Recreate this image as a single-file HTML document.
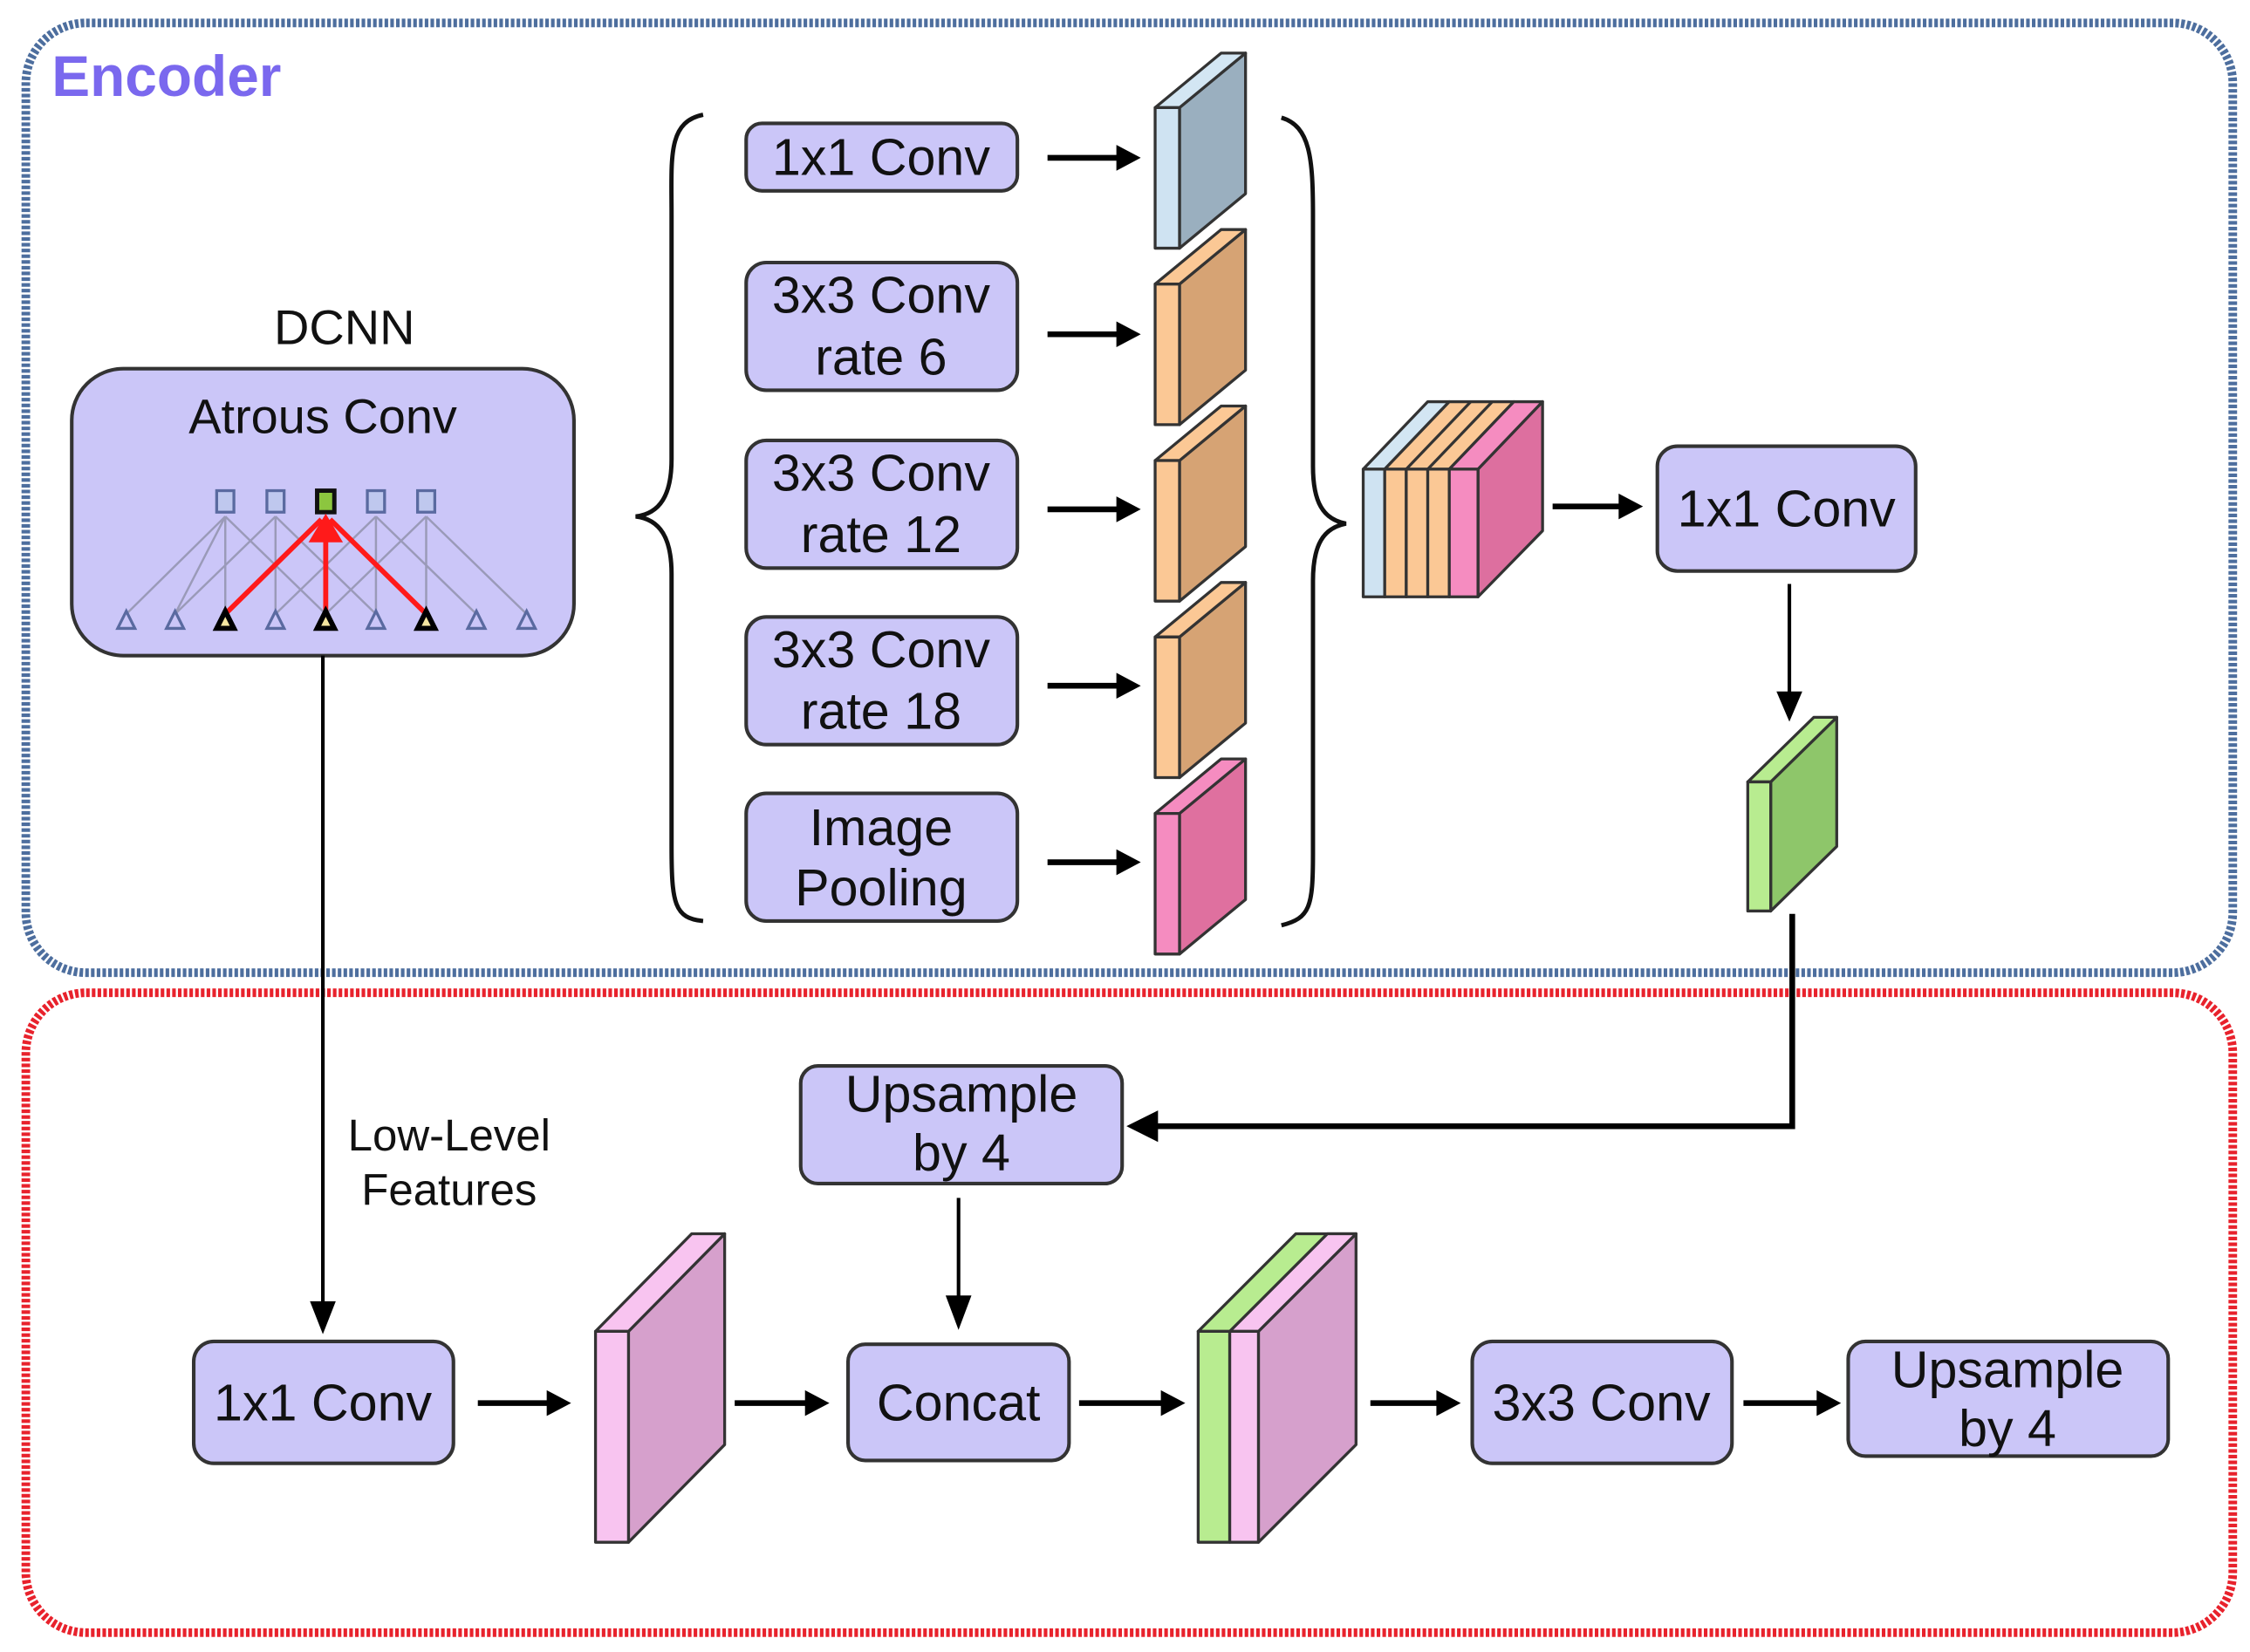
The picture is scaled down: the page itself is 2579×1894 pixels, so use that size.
<!DOCTYPE html>
<html><head><meta charset="utf-8"><style>
html,body{margin:0;padding:0;background:#fff;}
svg{display:block;}
text{font-family:"Liberation Sans",sans-serif;}
</style></head><body>
<svg width="2579" height="1894" viewBox="0 0 1568 1151.5" preserveAspectRatio="none" xmlns="http://www.w3.org/2000/svg">
<!-- frames -->
<rect x="18" y="16" width="1538" height="662" rx="42" fill="none" stroke="#4d6e9e" stroke-width="6" stroke-dasharray="2.5 1.5"/>
<rect x="18" y="692" width="1538" height="446" rx="42" fill="none" stroke="#e8222c" stroke-width="6" stroke-dasharray="2.5 1.5"/>
<text x="36" y="67" font-size="40" font-weight="bold" fill="#7a68ee">Encoder</text>

<!-- DCNN -->
<text x="240" y="240" font-size="34" text-anchor="middle" fill="#111">DCNN</text>
<rect x="50" y="257" width="350" height="200" rx="36" fill="#cbc6f8" stroke="#333" stroke-width="2.5"/>
<text x="225" y="302" font-size="34" text-anchor="middle" fill="#111">Atrous Conv</text>
<g stroke="#9a9ab8" stroke-width="1.5" fill="none">
<line x1="88" y1="428" x2="157" y2="360"/><line x1="122" y1="428" x2="192" y2="360"/>
<line x1="157" y1="428" x2="157" y2="360"/><line x1="192" y1="428" x2="192" y2="360"/>
<line x1="262" y1="428" x2="262" y2="360"/><line x1="297" y1="428" x2="297" y2="360"/>
<line x1="227" y1="428" x2="157" y2="360"/><line x1="262" y1="428" x2="192" y2="360"/>
<line x1="192" y1="428" x2="262" y2="360"/><line x1="227" y1="428" x2="297" y2="360"/>
<line x1="332" y1="428" x2="262" y2="360"/><line x1="367" y1="428" x2="297" y2="360"/>
<line x1="122" y1="428" x2="157" y2="360"/>
</g>
<g stroke="#5a6aa0" stroke-width="2" fill="#bfc8ee">
<rect x="151" y="342" width="12" height="15"/><rect x="186" y="342" width="12" height="15"/>
<rect x="256" y="342" width="12" height="15"/><rect x="291" y="342" width="12" height="15"/>
</g>
<rect x="221" y="342" width="12" height="15" fill="#8cc63f" stroke="#111" stroke-width="3"/>
<g stroke="#ff1a1a" stroke-width="3.5">
<line x1="157" y1="428" x2="224" y2="362"/><line x1="227" y1="428" x2="227" y2="362"/><line x1="297" y1="428" x2="230" y2="362"/>
</g>
<polygon points="227,358 215,378 239,378" fill="#ff1a1a"/>
<g stroke="#5a6aa0" stroke-width="2" fill="none">
<polygon points="88,426 82,438 94,438"/><polygon points="122,426 116,438 128,438"/>
<polygon points="192,426 186,438 198,438"/><polygon points="262,426 256,438 268,438"/>
<polygon points="332,426 326,438 338,438"/><polygon points="367,426 361,438 373,438"/>
</g>
<g stroke="#000" stroke-width="3.5" fill="#f5e6a0">
<polygon points="157,426 151,438 163,438"/><polygon points="227,426 221,438 233,438"/><polygon points="297,426 291,438 303,438"/>
</g>

<!-- braces -->
<path d="M490,80 C465,85 468,110 468,150 L468,320 C468,345 460,358 443,360 C460,362 468,375 468,400 L468,590 C468,630 470,640 490,642" fill="none" stroke="#111" stroke-width="3"/>
<path d="M893,82 C913,88 915,110 915,150 L915,325 C915,350 922,362 938,365 C922,368 915,380 915,405 L915,595 C915,632 913,640 893,645" fill="none" stroke="#111" stroke-width="3"/>

<!-- boxes -->
<g fill="#cbc6f8" stroke="#333" stroke-width="2.5">
<rect x="520" y="86" width="189" height="47" rx="11"/>
<rect x="520" y="183" width="189" height="89" rx="14"/>
<rect x="520" y="307" width="189" height="89" rx="14"/>
<rect x="520" y="430" width="189" height="89" rx="14"/>
<rect x="520" y="553" width="189" height="89" rx="14"/>
<rect x="1155" y="311" width="180" height="87" rx="14"/>
<rect x="558" y="743" width="224" height="82" rx="12"/>
<rect x="135" y="935" width="181" height="85" rx="14"/>
<rect x="591" y="937" width="154" height="81" rx="12"/>
<rect x="1026" y="935" width="181" height="85" rx="14"/>
<rect x="1288" y="935" width="223" height="80" rx="12"/>
</g>
<g font-size="36" text-anchor="middle" fill="#111">
<text x="614" y="122">1x1 Conv</text>
<text x="614" y="218">3x3 Conv</text><text x="614" y="261">rate 6</text>
<text x="614" y="342">3x3 Conv</text><text x="614" y="385">rate 12</text>
<text x="614" y="465">3x3 Conv</text><text x="614" y="508">rate 18</text>
<text x="614" y="589">Image</text><text x="614" y="631">Pooling</text>
<text x="1245" y="367">1x1 Conv</text>
<text x="670" y="775">Upsample</text><text x="670" y="816">by 4</text>
<text x="225" y="990">1x1 Conv</text>
<text x="668" y="990">Concat</text>
<text x="1116" y="990">3x3 Conv</text>
<text x="1399" y="967">Upsample</text><text x="1399" y="1008">by 4</text>
</g>
<g font-size="31" text-anchor="middle" fill="#111">
<text x="313" y="802">Low-Level</text><text x="313" y="840">Features</text>
</g>

<!-- arrows -->
<g stroke="#000" stroke-width="4" fill="none">
<line x1="730" y1="110" x2="780" y2="110"/><line x1="730" y1="233" x2="780" y2="233"/>
<line x1="730" y1="355" x2="780" y2="355"/><line x1="730" y1="478" x2="780" y2="478"/>
<line x1="730" y1="601" x2="780" y2="601"/>
<line x1="1082" y1="353" x2="1130" y2="353"/>
<line x1="333" y1="978" x2="383" y2="978"/><line x1="512" y1="978" x2="562" y2="978"/>
<line x1="752" y1="978" x2="811" y2="978"/><line x1="955" y1="978" x2="1003" y2="978"/>
<line x1="1215" y1="978" x2="1268" y2="978"/>
<polyline points="1249,637 1249,785 805,785"/>
</g>
<g stroke="#000" stroke-width="2.5">
<line x1="1247" y1="407" x2="1247" y2="485"/>
<line x1="225" y1="457" x2="225" y2="910"/>
<line x1="668" y1="835" x2="668" y2="905"/>
</g>
<g fill="#000">
<polygon points="795,110 778,101 778,119"/><polygon points="795,233 778,224 778,242"/>
<polygon points="795,355 778,346 778,364"/><polygon points="795,478 778,469 778,487"/>
<polygon points="795,601 778,592 778,610"/>
<polygon points="1145,353 1128,344 1128,362"/>
<polygon points="398,978 381,969 381,987"/><polygon points="578,978 561,969 561,987"/>
<polygon points="826,978 809,969 809,987"/><polygon points="1018,978 1001,969 1001,987"/>
<polygon points="1283,978 1266,969 1266,987"/>
<polygon points="785,785 807,774 807,796"/>
<polygon points="1247,503 1238,482 1256,482"/>
<polygon points="225,930 216,907 234,907"/>
<polygon points="668,927 659,903 677,903"/>
</g>

<!-- feature blocks encoder -->
<g stroke="#333" stroke-width="2" stroke-linejoin="round">
<g><polygon points="822,75 868,37 868,135 822,173" fill="#9aafbf"/><polygon points="805,75 851,37 868,37 822,75" fill="#d3e6f3"/><rect x="805" y="75" width="17" height="98" fill="#cfe3f2"/></g>
<g><polygon points="822,198 868,160 868,258 822,296" fill="#d6a374"/><polygon points="805,198 851,160 868,160 822,198" fill="#fbc895"/><rect x="805" y="198" width="17" height="98" fill="#fbc895"/></g>
<g><polygon points="822,321 868,283 868,381 822,419" fill="#d6a374"/><polygon points="805,321 851,283 868,283 822,321" fill="#fbc895"/><rect x="805" y="321" width="17" height="98" fill="#fbc895"/></g>
<g><polygon points="822,444 868,406 868,504 822,542" fill="#d6a374"/><polygon points="805,444 851,406 868,406 822,444" fill="#fbc895"/><rect x="805" y="444" width="17" height="98" fill="#fbc895"/></g>
<g><polygon points="822,567 868,529 868,627 822,665" fill="#df709f"/><polygon points="805,567 851,529 868,529 822,567" fill="#f58cc0"/><rect x="805" y="567" width="17" height="98" fill="#f58cc0"/></g>
<!-- concat block -->
<polygon points="1030,327 1075,280 1075,370 1030,416" fill="#dd6f9f"/>
<polygon points="950,327 995,280 1010,280 965,327" fill="#d3e6f3"/>
<polygon points="965,327 1010,280 1055,280 1010,327" fill="#fbc895"/>
<polygon points="1010,327 1055,280 1075,280 1030,327" fill="#f58cc0"/>
<line x1="980" y1="327" x2="1025" y2="280"/><line x1="995" y1="327" x2="1040" y2="280"/>
<rect x="950" y="327" width="15" height="89" fill="#cfe3f2"/>
<rect x="965" y="327" width="15" height="89" fill="#fbc895"/>
<rect x="980" y="327" width="15" height="89" fill="#fbc895"/>
<rect x="995" y="327" width="15" height="89" fill="#fbc895"/>
<rect x="1010" y="327" width="20" height="89" fill="#f58cc0"/>
<!-- green -->
<polygon points="1234,545 1280,500 1280,590 1234,635" fill="#8ec66a"/>
<polygon points="1218,545 1264,500 1280,500 1234,545" fill="#b8ec90"/>
<rect x="1218" y="545" width="16" height="90" fill="#b8ec90"/>
<!-- decoder blocks -->
<polygon points="438,928 505,860 505,1007 438,1075" fill="#d6a0cc"/>
<polygon points="415,928 482,860 505,860 438,928" fill="#f8c4f0"/>
<rect x="415" y="928" width="23" height="147" fill="#f8c4f0"/>
<polygon points="877,928 945,860 945,1007 877,1075" fill="#d6a0cc"/>
<polygon points="835,928 903,860 945,860 877,928" fill="#b8ec90"/>
<polygon points="857,928 925,860 945,860 877,928" fill="#f8c4f0"/>
<rect x="835" y="928" width="22" height="147" fill="#b8ec90"/>
<rect x="857" y="928" width="20" height="147" fill="#f8c4f0"/>
</g>
</svg>
</body></html>
